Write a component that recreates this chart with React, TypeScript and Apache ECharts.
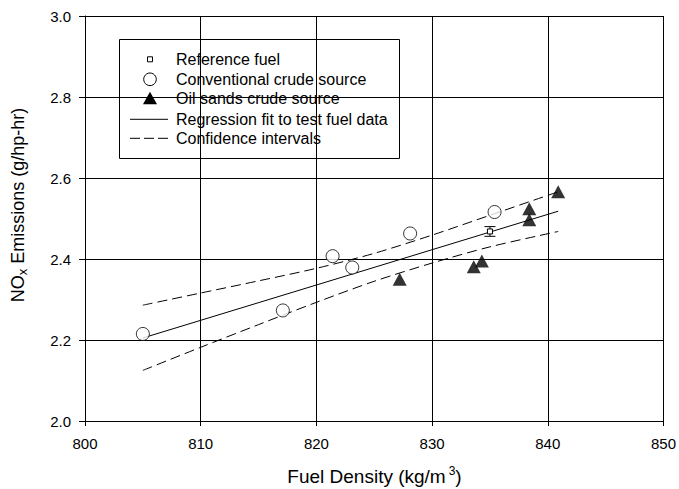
import React, { useEffect, useRef } from "react";
import * as echarts from "echarts";

const FONT = "'Liberation Sans', Arial, Helvetica, sans-serif";

const xMin = 800;
const xMax = 850;
const xStep = 10;
const yMin = 2.0;
const yMax = 3.0;
const yStep = 0.2;

const seriesNames = [
  "Reference fuel",
  "Conventional crude source",
  "Oil sands crude source",
  "Regression fit to test fuel data",
  "Confidence intervals",
];

// [density, NOx, error half-width]
const referenceFuel: number[][] = [[835.0, 2.468, 0.012]];
const conventional: number[][] = [
  [805.0, 2.215],
  [817.1, 2.273],
  [821.4, 2.407],
  [823.1, 2.379],
  [828.1, 2.463],
  [835.4, 2.516],
];
const oilSands: number[][] = [
  [827.2, 2.35],
  [833.6, 2.381],
  [834.3, 2.395],
  [838.4, 2.497],
  [838.4, 2.524],
  [840.9, 2.566],
];
const regression: number[][] = [
  [805.0, 2.205],
  [840.9, 2.518],
];
const ciX = [805, 810, 815, 820, 825, 830, 835, 840.9];
const ciUpper = [2.286, 2.316, 2.346, 2.377, 2.414, 2.459, 2.508, 2.566];
const ciLower = [2.125, 2.182, 2.238, 2.293, 2.345, 2.39, 2.43, 2.468];

export default function App() {
  const ref = useRef<HTMLDivElement>(null);

  useEffect(() => {
    if (!ref.current) return;
    const chart = echarts.init(ref.current, undefined, { renderer: "svg" });

    const black = "#000";
    const lg = { x: 119.5, y: 39.5 };
    const rowY = [19.8, 39.8, 58.8, 79.8, 98.8];
    const iconX = 30.5;
    const textX = 56.5;
    const legendText = (i: number) => ({
      type: "text",
      x: textX,
      y: rowY[i],
      style: {
        text: seriesNames[i],
        fontSize: 16,
        fontFamily: FONT,
        fill: black,
        align: "left",
        verticalAlign: "middle",
      },
    });

    const option: any = {
      animation: false,
      textStyle: { fontFamily: FONT },
      grid: { left: 85, right: 15, top: 16, bottom: 68, containLabel: false },
      xAxis: {
        type: "value",
        min: xMin,
        max: xMax,
        interval: xStep,
        axisLine: { show: true, onZero: false, lineStyle: { color: black, width: 1 } },
        axisTick: { show: true, inside: false, length: 5, lineStyle: { color: black, width: 1 } },
        axisLabel: { color: black, fontSize: 15, margin: 15, fontFamily: FONT },
        splitLine: { show: true, lineStyle: { color: black, width: 1 } },
      },
      yAxis: {
        type: "value",
        min: yMin,
        max: yMax,
        interval: yStep,
        axisLine: { show: true, onZero: false, lineStyle: { color: black, width: 1 } },
        axisTick: { show: true, inside: false, length: 6, lineStyle: { color: black, width: 1 } },
        axisLabel: {
          color: black,
          fontSize: 15,
          margin: 14,
          fontFamily: FONT,
          formatter: (v: number) => v.toFixed(1),
        },
        splitLine: { show: true, lineStyle: { color: black, width: 1 } },
      },
      series: [
        {
          name: seriesNames[3],
          type: "line",
          data: regression,
          symbol: "none",
          silent: true,
          z: 2,
          lineStyle: { color: black, width: 1 },
        },
        {
          name: seriesNames[4],
          type: "line",
          data: ciX.map((x, i) => [x, ciUpper[i]]),
          symbol: "none",
          smooth: 0.3,
          silent: true,
          z: 2,
          lineStyle: { color: black, width: 1, type: [10, 5] },
        },
        {
          name: seriesNames[4] + " (lower)",
          type: "line",
          data: ciX.map((x, i) => [x, ciLower[i]]),
          symbol: "none",
          smooth: 0.3,
          silent: true,
          z: 2,
          lineStyle: { color: black, width: 1, type: [10, 5] },
        },
        {
          name: seriesNames[1],
          type: "scatter",
          data: conventional,
          symbol: "circle",
          symbolSize: 13,
          silent: true,
          z: 4,
          itemStyle: { color: "#fff", borderColor: black, borderWidth: 1 },
        },
        {
          name: seriesNames[2],
          type: "scatter",
          data: oilSands,
          symbol: "triangle",
          symbolSize: [14, 13],
          silent: true,
          z: 4,
          itemStyle: { color: black },
        },
        {
          name: seriesNames[0],
          type: "custom",
          silent: true,
          z: 5,
          data: referenceFuel.map((d) => [d[0], d[1] - d[2], d[1] + d[2], d[1]]),
          encode: { x: 0, y: [1, 2, 3] },
          renderItem: (_params: any, api: any) => {
            const x = api.value(0);
            const lo = api.coord([x, api.value(1)]);
            const hi = api.coord([x, api.value(2)]);
            const mid = api.coord([x, api.value(3)]);
            const hw = 5.5;
            const st = { stroke: black, lineWidth: 1 };
            return {
              type: "group",
              children: [
                { type: "line", shape: { x1: lo[0], y1: lo[1], x2: hi[0], y2: hi[1] }, style: st },
                { type: "line", shape: { x1: lo[0] - hw, y1: lo[1], x2: lo[0] + hw, y2: lo[1] }, style: st },
                { type: "line", shape: { x1: hi[0] - hw, y1: hi[1], x2: hi[0] + hw, y2: hi[1] }, style: st },
                {
                  type: "rect",
                  shape: { x: mid[0] - 2.5, y: mid[1] - 2.5, width: 5, height: 5 },
                  style: { fill: "#fff", stroke: black, lineWidth: 1 },
                },
              ],
            };
          },
        },
      ],
      graphic: [
        {
          type: "group",
          x: lg.x,
          y: lg.y,
          z: 100,
          silent: true,
          children: [
            {
              type: "rect",
              shape: { x: 0, y: 0, width: 280, height: 119 },
              style: { fill: "#fff", stroke: black, lineWidth: 1 },
            },
            {
              type: "rect",
              shape: { x: iconX - 2.5, y: rowY[0] - 2.5, width: 5, height: 5 },
              style: { fill: "#fff", stroke: black, lineWidth: 1 },
            },
            {
              type: "circle",
              shape: { cx: iconX, cy: rowY[1], r: 6.3 },
              style: { fill: "#fff", stroke: black, lineWidth: 1 },
            },
            {
              type: "polygon",
              shape: {
                points: [
                  [iconX, rowY[2] - 6.5],
                  [iconX + 7, rowY[2] + 6],
                  [iconX - 7, rowY[2] + 6],
                ],
              },
              style: { fill: black },
            },
            {
              type: "line",
              shape: { x1: 10.5, y1: rowY[3], x2: 48.5, y2: rowY[3] },
              style: { stroke: black, lineWidth: 1 },
            },
            {
              type: "line",
              shape: { x1: 10.5, y1: rowY[4], x2: 48.5, y2: rowY[4] },
              style: { stroke: black, lineWidth: 1, lineDash: [10, 4] },
            },
            legendText(0),
            legendText(1),
            legendText(2),
            legendText(3),
            legendText(4),
          ],
        },
        {
          type: "text",
          x: 374.5,
          y: 476,
          z: 100,
          silent: true,
          style: {
            text: "{a|Fuel Density (kg/m}{s|3}{a|)}",
            align: "center",
            verticalAlign: "middle",
            fill: black,
            rich: {
              a: { fontSize: 19, fontFamily: FONT, fill: black, lineHeight: 22, verticalAlign: "middle" },
              s: { fontSize: 12, fontFamily: FONT, fill: black, lineHeight: 12, verticalAlign: "top", padding: [0, 0, 0, 3] },
            },
          },
        },
        {
          type: "text",
          x: 18,
          y: 205,
          z: 100,
          rotation: Math.PI / 2,
          silent: true,
          style: {
            text: "{a|NO}{s|x}{a| Emissions (g/hp-hr)}",
            align: "center",
            verticalAlign: "middle",
            fill: black,
            rich: {
              a: { fontSize: 18, fontFamily: FONT, fill: black, lineHeight: 22, verticalAlign: "middle" },
              s: { fontSize: 13, fontFamily: FONT, fill: black, lineHeight: 13, verticalAlign: "bottom" },
            },
          },
        },
      ],
    };

    chart.setOption(option);
    return () => chart.dispose();
  }, []);

  return (
    <div
      ref={ref}
      style={{ position: "absolute", left: 0, top: 0, width: 679, height: 489, background: "#fff" }}
    />
  );
}
